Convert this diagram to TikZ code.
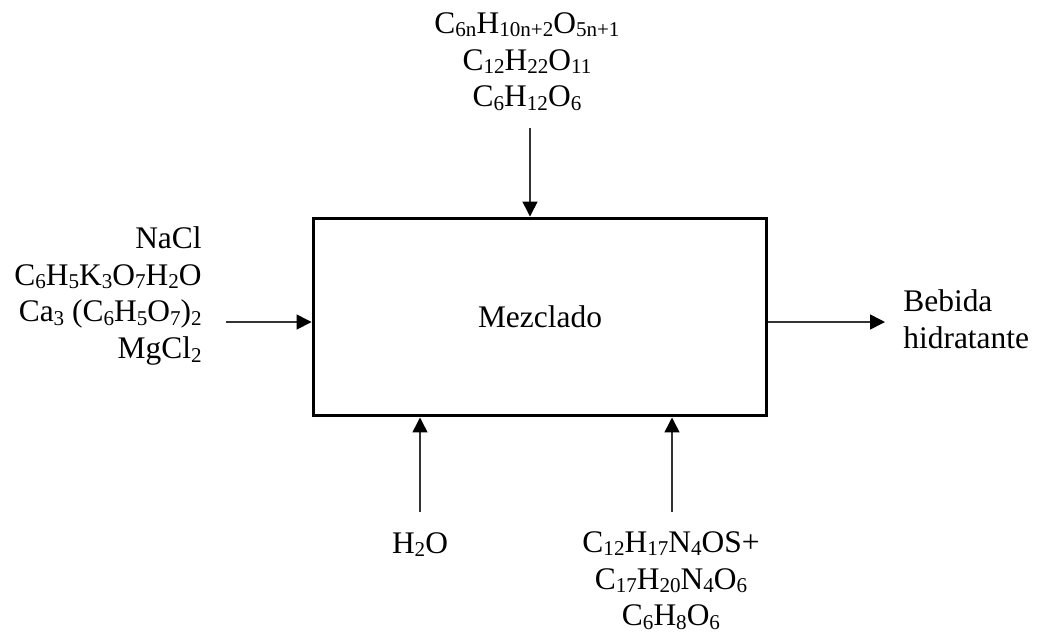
\documentclass[tikz,border=0pt]{standalone}
\usepackage{fontspec}
\setmainfont{Liberation Serif}
\usetikzlibrary{arrows.meta,positioning}
\newcommand\chsub[1]{\raisebox{-0.1em}{\fontsize{12pt}{12pt}\selectfont #1}}
\tikzset{
  >={Triangle[length=0.3cm,width=0.3cm,color=black]},
  every node/.style={font=\fontsize{17.9pt}{21pt}\selectfont, inner sep=0pt},
  % --- nodes
  proc/.style = {draw=black, line width=0.06cm, minimum width=9.08cm,
                 minimum height=3.96cm},
  chem/.style = {align=center},
  % --- edges
  e/.style    = {->, line width=0.03cm, draw=black!80},
}
\begin{document}
\begin{tikzpicture}[x=0.02cm,y=-0.02cm]
  \useasboundingbox (0,0) rectangle (1037,633);
  \node[proc] (mez) at (540,317) {Mezclado};
  % inputs and output
  \node[chem, anchor=north] (azuc) at (527,12)
    {C\chsub{6n}H\chsub{10n+2}O\chsub{5n+1}\\C\chsub{12}H\chsub{22}O\chsub{11}\\C\chsub{6}H\chsub{12}O\chsub{6}};
  \node[chem, align=right, anchor=north east] (sales) at (202,226)
    {NaCl\\C\chsub{6}H\chsub{5}K\chsub{3}O\chsub{7}H\chsub{2}O\\Ca\chsub{3} (C\chsub{6}H\chsub{5}O\chsub{7})\chsub{2}\\MgCl\chsub{2}};
  \node[chem, anchor=base] (agua) at (420,553) {H\chsub{2}O};
  \node[chem, anchor=north] (vit) at (671,531)
    {C\chsub{12}H\chsub{17}N\chsub{4}OS+\\C\chsub{17}H\chsub{20}N\chsub{4}O\chsub{6}\\C\chsub{6}H\chsub{8}O\chsub{6}};
  \node[chem, align=left, anchor=north west] (beb) at (903,289) {Bebida\\hidratante};
  % arrow ends
  \coordinate (cTop) at (530,128);
  \coordinate (cLeft) at (226,322);
  \coordinate (cRight) at (885,322);
  \coordinate (cAgua) at (420,512);
  \coordinate (cVit) at (672,512);
  \draw[e] (cTop) -- (cTop |- mez.north);
  \draw[e] (cLeft) -- (cLeft -| mez.west);
  \draw[e] (cRight -| mez.east) -- (cRight);
  \draw[e] (cAgua) -- (cAgua |- mez.south);
  \draw[e] (cVit) -- (cVit |- mez.south);
\end{tikzpicture}
\end{document}
